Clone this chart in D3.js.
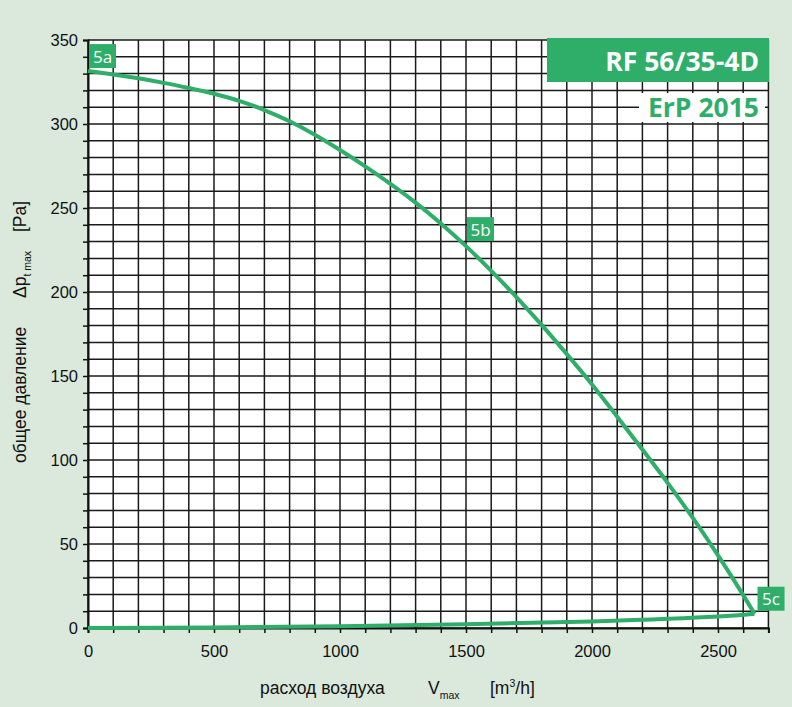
<!DOCTYPE html>
<html><head><meta charset="utf-8">
<script src="https://cdn.jsdelivr.net/npm/d3@7"></script>
<style>
html,body{margin:0;padding:0;background:#dae9dc;}
svg{display:block;}
</style></head>
<body>
<svg id="chart" width="792" height="707"></svg>
<script>
// ---- data ----
const xTicks = [0, 500, 1000, 1500, 2000, 2500];
const yTicks = [0, 50, 100, 150, 200, 250, 300, 350];
const fanFlow = [0,100,200,300,400,500,600,700,800,900,1000,1100,1200,1300,1400,1500,1600,1700,1800,1900,2000,2100,2200,2300,2400,2500,2600,2645];
const fanPressure = [331.5,329.5,327.2,324.5,321.4,318,313.8,308.3,301.6,293.6,284.5,274.8,264.4,253.2,240.8,227.3,212.6,197,180.4,163,145,125.8,106.2,86.4,65.5,43.2,19.6,8.5];
const sysFlow = [0,500,1000,1500,2000,2500,2645];
const sysPressure = [0,0.3,1.0,2.2,3.9,6.8,8.5];
const pointLabels = ["5a","5b","5c"];
const pointFlow = [0,1500,2645];
const pointPressure = [331.5,227.3,8.5];
const title = "RF 56/35-4D";
const subtitle = "ErP 2015";

// ---- layout ----
const svg = d3.select("#chart");
const W = 792, H = 707;
const green = "#2eae69";
const x = d3.scaleLinear().domain([0, 2700]).range([88, 768.4]);
const y = d3.scaleLinear().domain([0, 350]).range([628, 40]);

svg.append("rect").attr("width", W).attr("height", H).attr("fill", "#dae9dc");
svg.append("rect").attr("x", x(0)).attr("y", y(350)).attr("width", x(2700) - x(0)).attr("height", y(0) - y(350)).attr("fill", "#fff");

// grid
const g = svg.append("g");
g.selectAll("line.v").data(d3.range(0, 2701, 100)).join("line")
  .attr("x1", d => x(d)).attr("x2", d => x(d)).attr("y1", y(0)).attr("y2", y(350))
  .attr("stroke", "#1a1a1a").attr("stroke-width", 1.5);
g.selectAll("line.h").data(d3.range(0, 351, 10)).join("line")
  .attr("x1", x(0)).attr("x2", x(2700)).attr("y1", d => y(d)).attr("y2", d => y(d))
  .attr("stroke", "#1a1a1a").attr("stroke-width", 1.5);

// axes
const xAxis = d3.axisBottom(x).tickValues(d3.range(0, 2701, 100)).tickSize(5).tickFormat(d => xTicks.includes(d) ? d : "");
const xa = svg.append("g").attr("transform", `translate(0,${y(0)})`).call(xAxis);
const yAxis = d3.axisLeft(y).tickValues(d3.range(0, 351, 10)).tickSize(5).tickFormat(d => yTicks.includes(d) ? d : "");
const ya = svg.append("g").attr("transform", `translate(${x(0)},0)`).call(yAxis);
[xa, ya].forEach(a => {
  a.select(".domain").attr("stroke", "#111").attr("stroke-width", 2);
  a.selectAll(".tick line").attr("stroke", "#111").attr("stroke-width", 1.5);
  a.selectAll("text").attr("font-family", "Liberation Sans, Arial, sans-serif").attr("font-size", 16.5).attr("fill", "#111");
});
xa.selectAll("text").attr("dy", "1.25em");
ya.selectAll("text").attr("x", -10);

// curves
const line = d3.line().x(d => x(d[0])).y(d => y(d[1])).curve(d3.curveCatmullRom);
svg.append("path").datum(fanFlow.map((f, i) => [f, fanPressure[i]]))
  .attr("d", line).attr("fill", "none").attr("stroke", green).attr("stroke-width", 4).attr("stroke-linejoin", "round");
svg.append("path").datum(sysFlow.map((f, i) => [f, sysPressure[i]]))
  .attr("d", line).attr("fill", "none").attr("stroke", green).attr("stroke-width", 4).attr("stroke-linejoin", "round");

// point labels
const offsets = [[1, -27], [1, -29], [3, -27]];
pointLabels.forEach((lab, i) => {
  const bx = x(pointFlow[i]) + offsets[i][0], by = y(pointPressure[i]) + offsets[i][1];
  svg.append("rect").attr("x", bx).attr("y", by).attr("width", 27).attr("height", 24).attr("fill", green);
  svg.append("text").attr("x", bx + 13.5).attr("y", by + 18.5).attr("text-anchor", "middle")
    .attr("font-family", "Open Sans, sans-serif").attr("font-size", 17).attr("fill", "#fff").text(lab);
});

// title boxes
svg.append("rect").attr("x", 547).attr("y", 38).attr("width", 222).attr("height", 44).attr("fill", green);
svg.append("text").attr("x", 759).attr("y", 71).attr("text-anchor", "end")
  .attr("font-family", "Open Sans, sans-serif").attr("font-weight", "bold").attr("font-size", 26.5).attr("fill", "#fff").text(title);
svg.append("rect").attr("x", 639).attr("y", 93).attr("width", 126).attr("height", 29).attr("fill", "#fff");
svg.append("text").attr("x", 759).attr("y", 117).attr("text-anchor", "end")
  .attr("font-family", "Open Sans, sans-serif").attr("font-weight", "bold").attr("font-size", 26.5).attr("fill", green).text(subtitle);

// axis titles
const ff = "Liberation Sans, Arial, sans-serif";
const xt = svg.append("text").attr("y", 694).attr("font-family", ff).attr("font-size", 17.5).attr("fill", "#111");
xt.append("tspan").attr("x", 260).text("расход воздуха");
xt.append("tspan").attr("x", 428).text("V");
xt.append("tspan").attr("font-size", 10.5).attr("dy", 5).text("max");
xt.append("tspan").attr("x", 490).attr("dy", -5).text("[m");
xt.append("tspan").attr("font-size", 10.5).attr("dy", -7).text("3");
xt.append("tspan").attr("dy", 7).text("/h]");

const yt = svg.append("text").attr("transform", "translate(26,463) rotate(-90)").attr("font-family", ff).attr("font-size", 17.5).attr("fill", "#111");
yt.append("tspan").attr("x", 0).text("общее давление");
yt.append("tspan").attr("x", 165).text("Δp");
yt.append("tspan").attr("font-size", 10.5).attr("dy", 5).text("t max");
yt.append("tspan").attr("x", 231).attr("dy", -5).text("[Pa]");
</script>
</body></html>
